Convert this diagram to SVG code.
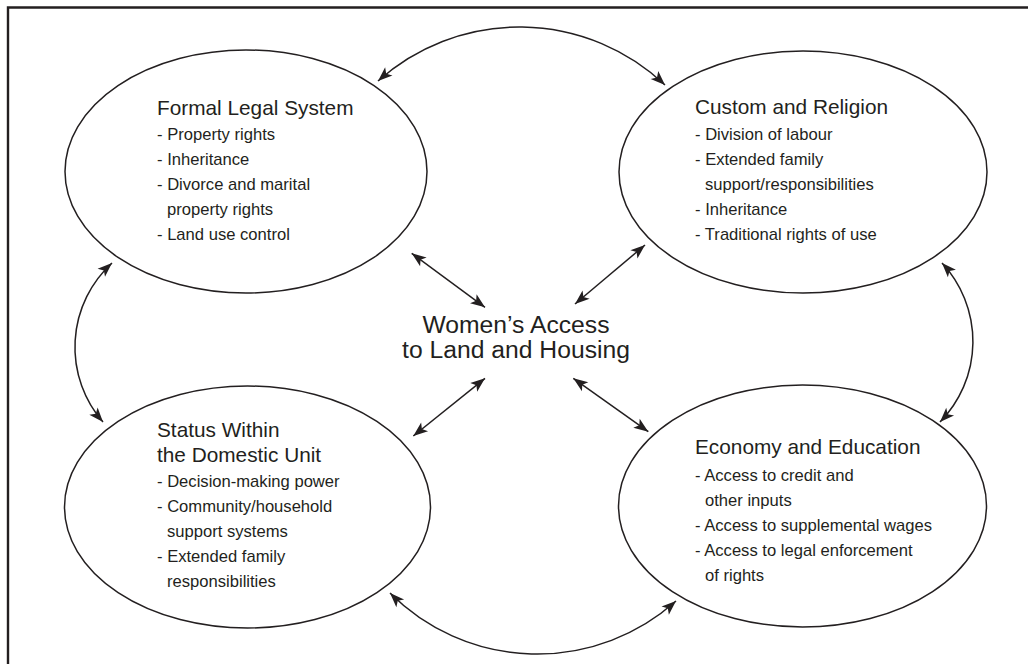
<svg xmlns="http://www.w3.org/2000/svg" width="1028" height="664" viewBox="0 0 1028 664">
<style>
.frame{fill:none;stroke:#231f20;stroke-width:2.4}
.node ellipse{fill:#fff;stroke:#231f20;stroke-width:1.5}
.conn{fill:none;stroke:#231f20;stroke-width:1.5;marker-start:url(#ah);marker-end:url(#ah)}
text{font-family:"Liberation Sans",Arial,sans-serif;fill:#231f20}
.t{font-size:20.8px}
.i{font-size:16.6px}
.c{font-size:24.7px;text-anchor:middle}
</style>
<defs>
<marker id="ah" viewBox="-15 -7 16 14" refX="0" refY="0" markerWidth="16" markerHeight="14" markerUnits="userSpaceOnUse" orient="auto-start-reverse">
<path d="M0,0 L-14.5,-5.5 L-11,0 L-14.5,5.5 Z" fill="#231f20"/>
</marker>
</defs>
<path class="frame" d="M8,664 V7.5 H1028"/>
<g id="connectors">
<path class="conn" d="M378,81 A212,212 0 0 1 665,85"/>
<path class="conn" d="M112,263 A114,114 0 0 0 103,422"/>
<path class="conn" d="M942,263 A115,115 0 0 1 940,422"/>
<path class="conn" d="M390,593 A208,208 0 0 0 676,601"/>
<path class="conn" d="M411.7,253.3 L485,307.3"/>
<path class="conn" d="M575,304 L645,245"/>
<path class="conn" d="M485,378.3 L413.3,436"/>
<path class="conn" d="M573.3,378.3 L648.3,431.7"/>
</g>
<g id="formal-legal" class="node">
<ellipse cx="246" cy="171.5" rx="181" ry="121.5"/>
<text class="t" x="157" y="115">Formal Legal System</text>
<text class="i" x="157" y="140">- Property rights</text>
<text class="i" x="157" y="165">- Inheritance</text>
<text class="i" x="157" y="190">- Divorce and marital</text>
<text class="i" x="167" y="215">property rights</text>
<text class="i" x="157" y="240">- Land use control</text>
</g>
<g id="custom-religion" class="node">
<ellipse cx="803" cy="172" rx="184" ry="121"/>
<text class="t" x="695" y="114">Custom and Religion</text>
<text class="i" x="695" y="140">- Division of labour</text>
<text class="i" x="695" y="165">- Extended family</text>
<text class="i" x="705" y="190">support/responsibilities</text>
<text class="i" x="695" y="215">- Inheritance</text>
<text class="i" x="695" y="240">- Traditional rights of use</text>
</g>
<g id="center" class="node">
<text class="c" x="516" y="333">Women’s Access</text>
<text class="c" x="516" y="358">to Land and Housing</text>
</g>
<g id="status-domestic" class="node">
<ellipse cx="247.5" cy="507" rx="183" ry="121"/>
<text class="t" x="157" y="437">Status Within</text>
<text class="t" x="157" y="462">the Domestic Unit</text>
<text class="i" x="157" y="487">- Decision-making power</text>
<text class="i" x="157" y="512">- Community/household</text>
<text class="i" x="167" y="537">support systems</text>
<text class="i" x="157" y="562">- Extended family</text>
<text class="i" x="167" y="587">responsibilities</text>
</g>
<g id="economy-education" class="node">
<ellipse cx="802.5" cy="506" rx="184" ry="121"/>
<text class="t" x="695" y="454">Economy and Education</text>
<text class="i" x="695" y="481">- Access to credit and</text>
<text class="i" x="705" y="506">other inputs</text>
<text class="i" x="695" y="531">- Access to supplemental wages</text>
<text class="i" x="695" y="556">- Access to legal enforcement</text>
<text class="i" x="705" y="581">of rights</text>
</g>
</svg>
